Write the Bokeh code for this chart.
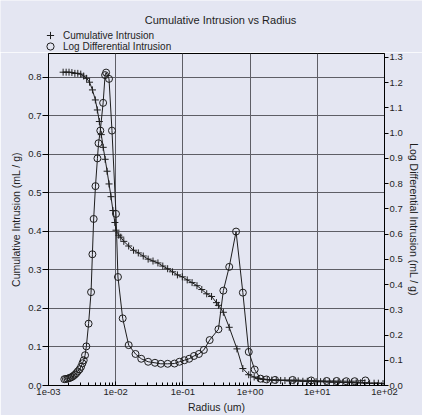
from bokeh.plotting import figure
from bokeh.models import (LinearAxis, Range1d, Legend, LegendItem, Label,
                          SingleIntervalTicker, PrintfTickFormatter,
                          CustomJSTickFormatter, LogTicker)
from bokeh.embed import file_html
from bokeh.resources import INLINE

# ---------------- data ----------------
cum_radius = [0.00165, 0.00183, 0.00202, 0.00223, 0.00247, 0.00273, 0.00302,
              0.00334, 0.00369, 0.00408, 0.00451, 0.00498, 0.00533, 0.00571,
              0.0061, 0.00652, 0.00697, 0.00745, 0.00796, 0.00851, 0.0091,
              0.00973, 0.0101, 0.0111, 0.0119, 0.0132, 0.0156, 0.0184, 0.0217,
              0.0257, 0.0304, 0.0359, 0.0425, 0.0502, 0.0593, 0.0701, 0.0829,
              0.098, 0.116, 0.137, 0.162, 0.191, 0.226, 0.267, 0.316, 0.338,
              0.40, 0.489, 0.638, 0.78, 0.954, 1.15, 1.33, 1.55, 1.8, 2.1,
              2.45, 2.85, 3.3, 3.85, 4.5, 5.2, 6.1, 7.1, 8.2, 9.6, 11.2, 13.0,
              15.1, 17.6, 20.5, 24.0, 28.0, 32.5, 38.0, 44.0, 51.0, 60.0, 70.0,
              81.0, 95.0]
cum_intrusion = [0.813, 0.813, 0.813, 0.812, 0.810, 0.810, 0.808, 0.803, 0.797,
                 0.787, 0.767, 0.741, 0.715, 0.685, 0.651, 0.618, 0.587, 0.556,
                 0.523, 0.490, 0.454, 0.423, 0.403, 0.390, 0.385, 0.374, 0.362,
                 0.351, 0.344, 0.336, 0.328, 0.323, 0.318, 0.310, 0.303, 0.295,
                 0.287, 0.282, 0.274, 0.267, 0.259, 0.249, 0.238, 0.231, 0.215,
                 0.208, 0.190, 0.151, 0.095, 0.044, 0.028, 0.022, 0.018, 0.016,
                 0.015, 0.014, 0.014, 0.013, 0.013, 0.012, 0.012, 0.012, 0.011,
                 0.011, 0.011, 0.010, 0.010, 0.010, 0.009, 0.009, 0.009, 0.008,
                 0.008, 0.008, 0.007, 0.007, 0.007, 0.006, 0.006, 0.006, 0.005]

ldi_radius = [0.00172, 0.00182, 0.00192, 0.00202, 0.00212, 0.00223, 0.00235,
              0.00247, 0.0026, 0.00273, 0.0029, 0.00305, 0.0032, 0.00334,
              0.0035, 0.00366, 0.00395, 0.0043, 0.0045, 0.0047, 0.005, 0.00535,
              0.00555, 0.0059, 0.0065, 0.00695, 0.0072, 0.00795, 0.0088, 0.0101,
              0.0108, 0.0127, 0.0156, 0.0197, 0.024, 0.0304, 0.0384, 0.0469,
              0.0593, 0.075, 0.0887, 0.105, 0.124, 0.146, 0.173, 0.205, 0.25,
              0.338, 0.40, 0.489, 0.618, 0.78, 0.955, 1.17, 1.43, 1.75, 2.35,
              4.3, 8.1, 13.8, 19.4, 27.0, 36.0, 52.0]
ldi_value = [0.025, 0.026, 0.027, 0.029, 0.031, 0.034, 0.038, 0.043, 0.049,
             0.056, 0.064, 0.074, 0.088, 0.100, 0.120, 0.155, 0.245, 0.370,
             0.520, 0.660, 0.790, 0.900, 0.960, 1.010, 1.120, 1.230, 1.240,
             1.215, 1.010, 0.680, 0.430, 0.266, 0.160, 0.125, 0.106, 0.094,
             0.090, 0.086, 0.086, 0.087, 0.094, 0.100, 0.106, 0.117, 0.125,
             0.141, 0.180, 0.223, 0.376, 0.470, 0.610, 0.368, 0.133, 0.063,
             0.027, 0.024, 0.022, 0.022, 0.020, 0.018, 0.018, 0.017, 0.017,
             0.020]

title_text = "Cumulative Intrusion vs Radius"
x_label = "Radius (um)"
y_left_label = "Cumulative Intrusion (mL / g)"
y_right_label = "Log Differential Intrusion (mL / g)"
series_labels = ["Cumulative Intrusion", "Log Differential Intrusion"]

# ---------------- style ----------------
BG = "#e4e6f2"
FONT = "Liberation Sans"
GRID = "#5e5e66"
INK = "#1e1e1e"
W = 422
TOP_H = 52
MAIN_H = 363

# ---------- header figure (title + legend) ----------
top = figure(width=W, height=TOP_H, x_range=Range1d(0, 1),
             y_range=Range1d(10, 11),
             output_backend="svg", toolbar_location=None,
             x_axis_location=None, y_axis_location=None,
             background_fill_color=BG, border_fill_color=BG,
             min_border_left=0, min_border_right=0, min_border_top=0,
             min_border_bottom=0, title=None)
top.outline_line_color = None
top.xgrid.visible = False
top.ygrid.visible = False

top.add_layout(Label(x=220, y=TOP_H - 19, x_units="screen", y_units="screen",
                     text=title_text, text_align="center",
                     text_baseline="middle", text_font=FONT,
                     text_font_size="11px", text_color=INK))

# legend key renderers (data lies outside this header's ranges, so only the
# legend keys are visible)
leg_cross = top.scatter(cum_radius, cum_intrusion, marker="cross",
                        line_color=INK, line_width=1)
leg_circle = top.scatter(ldi_radius, ldi_value, marker="circle",
                         line_color=INK, line_width=1, fill_alpha=0)

for rend, lab, row_center in ((leg_cross, series_labels[0], 35),
                              (leg_circle, series_labels[1], 46)):
    lg = Legend(items=[LegendItem(label=lab, renderers=[rend])],
                location=(41, TOP_H - row_center - 9),
                orientation="vertical", background_fill_alpha=0,
                border_line_alpha=0, label_text_font=FONT,
                label_text_font_size="10px", label_text_color=INK,
                label_height=18, glyph_height=18, glyph_width=18,
                label_standoff=4, spacing=0, padding=0, margin=0)
    top.add_layout(lg)

# ---------- main figure ----------
p = figure(width=W, height=MAIN_H, x_axis_type="log",
           x_range=Range1d(1e-3, 1e2), y_range=Range1d(0, 0.8615),
           output_backend="svg", toolbar_location=None, title=None,
           background_fill_color=BG, border_fill_color=BG,
           min_border_left=48, min_border_top=1, min_border_right=0,
           min_border_bottom=0)
p.outline_line_color = "black"
p.outline_line_width = 1

p.extra_y_ranges = {"ldi": Range1d(0, 1.3156)}

p.line(cum_radius, cum_intrusion, line_color=INK, line_width=1)
p.scatter(cum_radius, cum_intrusion, marker="cross", size=7,
          line_color=INK, line_width=1)
p.line(ldi_radius, ldi_value, line_color=INK, line_width=1, y_range_name="ldi")
p.scatter(ldi_radius, ldi_value, marker="circle", size=7,
          line_color=INK, line_width=1, fill_alpha=0, y_range_name="ldi")

xa = p.xaxis[0]
xa.ticker = LogTicker(num_minor_ticks=10)
xa.formatter = CustomJSTickFormatter(code=r"""
const s = tick.toExponential(0);
const m = s.match(/^(\d)e([+-])(\d+)$/);
if (!m) return s;
return m[1] + 'e' + m[2] + (m[3].length < 2 ? '0' + m[3] : m[3]);
""")
xa.axis_label = x_label

ya = p.yaxis[0]
ya.ticker = SingleIntervalTicker(interval=0.1, num_minor_ticks=0)
ya.formatter = PrintfTickFormatter(format="%.1f")
ya.axis_label = y_left_label
p.ygrid.ticker = ya.ticker

ra = LinearAxis(y_range_name="ldi", axis_label=y_right_label,
                ticker=SingleIntervalTicker(interval=0.1, num_minor_ticks=0),
                formatter=PrintfTickFormatter(format="%.1f"))
p.add_layout(ra, "right")

for ax in (xa, ya, ra):
    ax.axis_line_color = "black"
    ax.major_tick_line_color = "black"
    ax.minor_tick_line_color = "black"
    ax.major_label_text_font = FONT
    ax.major_label_text_font_size = "9.5px"
    ax.major_label_text_color = INK
    ax.axis_label_text_font = FONT
    ax.axis_label_text_font_size = "10.5px"
    ax.axis_label_text_font_style = "normal"
    ax.axis_label_text_color = INK

xa.major_tick_in = 4
xa.major_tick_out = 0
xa.minor_tick_in = 3
xa.minor_tick_out = 0
xa.major_label_standoff = 3
xa.axis_label_standoff = 3

ya.major_tick_in = 0
ya.major_tick_out = 6
ya.major_label_standoff = 1
ya.axis_label_standoff = 3

ra.major_tick_in = 0
ra.major_tick_out = 4
ra.major_label_standoff = 1
ra.axis_label_standoff = 2

p.xgrid.grid_line_color = GRID
p.ygrid.grid_line_color = GRID
p.xgrid.grid_line_width = 1
p.ygrid.grid_line_width = 1

open("out.html", "w").write(file_html([top, p], INLINE))
